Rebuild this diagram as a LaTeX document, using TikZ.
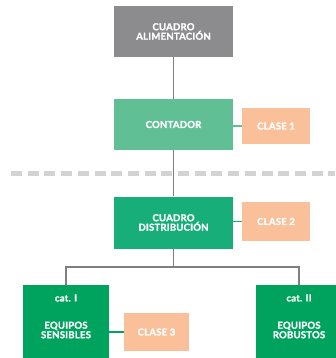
\documentclass[tikz,border=0pt]{standalone}
\usepackage{fontspec}
\setmainfont{Lato}
\newfontfamily\boxfont{Lato}[LetterSpace=2,BoldFeatures={FakeBold=1.2}]
\begin{document}
\begin{tikzpicture}[x=1pt,y=-1pt,
  box/.style={draw=none,inner sep=0pt,text=white,font=\boxfont\fontsize{9.6}{10.5}\selectfont\bfseries,align=center},
  clase/.style={fill=claseC,inner sep=0pt,text=white,font=\boxfont\fontsize{9.6}{10.5}\selectfont\bfseries,minimum width=68pt,minimum height=37pt},
  link/.style={draw=lineC,line width=1.6pt},
  glink/.style={draw=#1,line width=1.6pt}]
\definecolor{grayC}{HTML}{8C8C8E}
\definecolor{contC}{HTML}{60BF94}
\definecolor{distC}{HTML}{18AE79}
\definecolor{catC}{HTML}{00A35E}
\definecolor{claseC}{HTML}{F9C09A}
\definecolor{lineC}{HTML}{7F7F80}
\definecolor{dashC}{HTML}{D2D3D5}
\useasboundingbox (0,0) rectangle (335,358);
% dashed separator
\draw[dashC,line width=5pt,dash pattern=on 11pt off 5.7pt] (11,173.5) -- (335,173.5);
% boxes
\node[box,fill=grayC,minimum width=119pt,minimum height=51pt] (alim) at (173.5,31.5) {CUADRO\\[-1pt]ALIMENTACIÓN};
\node[box,fill=contC,minimum width=119pt,minimum height=51pt] (cont) at (173.5,124.5) {CONTADOR};
\node[clase,minimum height=36pt] (c1) at (276,126) {CLASE 1};
\node[box,fill=distC,minimum width=119pt,minimum height=52pt] (dist) at (173.5,222.5) {CUADRO\\[-1pt]DISTRIBUCIÓN};
\node[clase,minimum height=39pt] (c2) at (276,221.5) {CLASE 2};
\node[box,fill=catC,minimum width=86pt,minimum height=80pt,anchor=north] (sens) at (66,285) {};
\node[box,fill=catC,minimum width=86pt,minimum height=80pt,anchor=north] (rob) at (299,285) {};
\node[box,anchor=center] (sensc) at (66,298) {cat. I};
\node[box,anchor=center] (robc) at (299,298) {cat. II};
\node[box,anchor=center] (senst) at (66,330) {EQUIPOS\\[-1pt]SENSIBLES};
\node[box,anchor=center] (robt) at (299,330) {EQUIPOS\\[-1pt]ROBUSTOS};
\node[clase,minimum width=65pt,minimum height=38pt] (c3) at (156.5,332) {CLASE 3};
\coordinate (split) at (173.5,267);
% connectors
\draw[link] (alim.south) -- (cont.north);
\draw[link] (cont.south) -- (dist.north);
\draw[link] (dist.south) -- (split);
\draw[link] (sens.north) |- (split) -| (rob.north);
\draw[glink=contC] (cont.east |- c1.west) -- (c1.west);
\draw[glink=distC] (dist.east |- c2.west) -- (c2.west);
\draw[glink=catC] (sens.east |- c3.west) -- (c3.west);
\end{tikzpicture}
\end{document}
